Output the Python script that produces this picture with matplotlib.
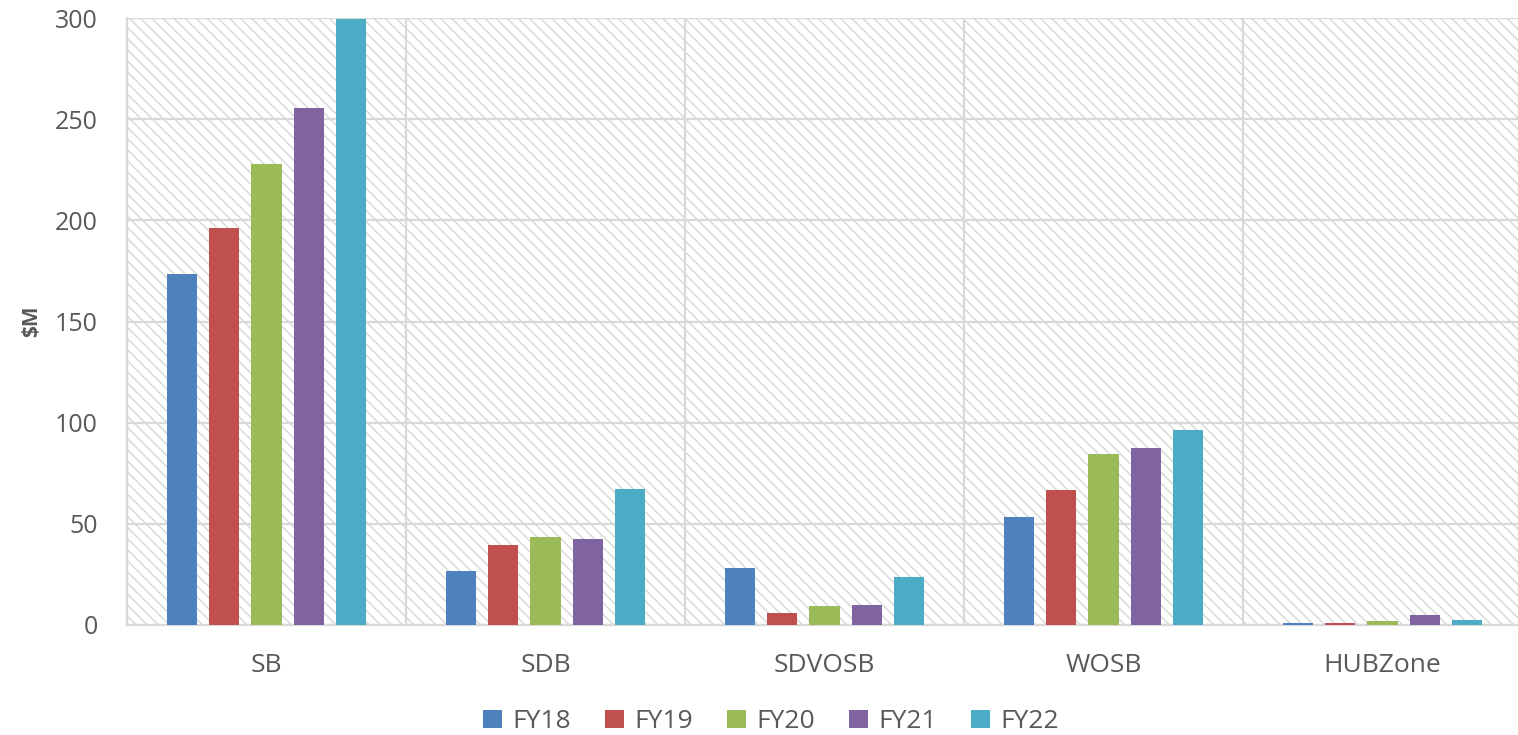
import matplotlib
matplotlib.use("Agg")
import matplotlib.pyplot as plt
import numpy as np

# ========= data =========
categories = ["SB", "SDB", "SDVOSB", "WOSB", "HUBZone"]
years = ["FY18", "FY19", "FY20", "FY21", "FY22"]
values = {
    "FY18": [173.5, 26.7, 28.0, 53.4, 0.8],
    "FY19": [196.0, 39.5, 6.0, 66.7, 1.2],
    "FY20": [228.0, 43.5, 9.4, 84.5, 1.8],
    "FY21": [255.5, 42.5, 10.0, 87.5, 4.8],
    "FY22": [299.5, 67.0, 23.7, 96.4, 2.3],
}
colors = ["#4F81BD", "#C0504D", "#9BBB59", "#8064A2", "#4BACC6"]
yticks = [0, 50, 100, 150, 200, 250, 300]

plt.rcParams["font.family"] = ["Open Sans", "DejaVu Sans"]
plt.rcParams["hatch.color"] = "#d6d6d6"
plt.rcParams["hatch.linewidth"] = 1.0

W, H = 1518, 735
fig = plt.figure(figsize=(W / 100, H / 100), dpi=100)
ax = fig.add_axes([127 / W, 110 / H, 1395 / W, 607 / H])

# 斜線の背景
ax.patch.set_facecolor("white")
ax.patch.set_hatch("\\\\\\")
ax.patch.set_edgecolor("#d6d6d6")

x = np.arange(len(categories))
step = 0.152
width = 0.108
for i, (yr, c) in enumerate(zip(years, colors)):
    ax.bar(x + (i - 2) * step, values[yr], width, color=c, label=yr, zorder=3)

ax.set_xlim(-0.5, len(categories) - 0.5)
ax.set_ylim(0, 300)
ax.set_yticks(yticks)
ax.set_xticks(x)
ax.set_xticklabels(categories)

# グリッド: 縦線はカテゴリ境界
ax.set_xticks(np.arange(-0.5, len(categories)), minor=True)
ax.grid(axis="y", which="major", color="#d9d9d9", lw=1.6, zorder=1)
ax.grid(axis="x", which="minor", color="#d9d9d9", lw=1.6, zorder=1)
ax.set_axisbelow(True)

for s in ["top", "right"]:
    ax.spines[s].set_visible(False)
for s in ["left", "bottom"]:
    ax.spines[s].set_color("#d9d9d9")
    ax.spines[s].set_linewidth(1.6)

ax.tick_params(axis="both", which="both", length=0, colors="#595959")
ax.tick_params(axis="x", labelsize=19, pad=20)
ax.tick_params(axis="y", labelsize=18, pad=21)

ax.set_ylabel("\\$M", fontsize=15, fontweight="bold", color="#595959", labelpad=9)

ax.legend(
    loc="upper center",
    bbox_to_anchor=(0.5 * 1518 / 1395 - 115 / 1395, -0.1),
    ncol=5,
    frameon=False,
    fontsize=19,
    handlelength=0.7,
    handleheight=0.7,
    handletextpad=0.4,
    columnspacing=1.3,
    labelcolor="#595959",
)

fig.savefig("out.png", dpi=100)
